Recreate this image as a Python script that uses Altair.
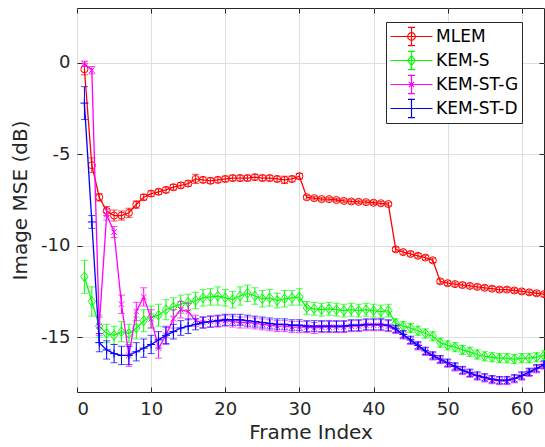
import altair as alt
import pandas as pd

frames = list(range(1, 64))
series_names = ["MLEM", "KEM-S", "KEM-ST-G", "KEM-ST-D"]
colors = ["#ff0000", "#00ff00", "#ff00ff", "#0000ff"]

mlem = [-0.35, -5.6, -7.35, -8.1, -8.35, -8.35, -8.2, -7.75, -7.35, -7.15,
        -7.05, -6.95, -6.8, -6.7, -6.6, -6.35, -6.4, -6.45, -6.4, -6.35,
        -6.3, -6.3, -6.3, -6.25, -6.3, -6.3, -6.35, -6.4, -6.35, -6.2,
        -7.35, -7.4, -7.45, -7.45, -7.5, -7.55, -7.58, -7.6, -7.62, -7.65,
        -7.68, -7.72, -10.2, -10.35, -10.45, -10.55, -10.65, -10.8, -11.95, -12.05,
        -12.1, -12.15, -12.2, -12.25, -12.3, -12.35, -12.4, -12.4, -12.45, -12.5,
        -12.55, -12.6, -12.65]
mlem_err = [0.30, 0.40, 0.20, 0.25, 0.30, 0.25, 0.25, 0.20, 0.15, 0.15,
            0.15, 0.15, 0.15, 0.15, 0.15, 0.25, 0.15, 0.15, 0.15, 0.15,
            0.15, 0.15, 0.15, 0.15, 0.15, 0.15, 0.15, 0.20, 0.15, 0.15,
            0.10, 0.10, 0.10, 0.10, 0.10, 0.10, 0.10, 0.10, 0.10, 0.10,
            0.10, 0.10, 0.12, 0.12, 0.12, 0.12, 0.12, 0.12, 0.12, 0.12,
            0.12, 0.12, 0.12, 0.12, 0.12, 0.12, 0.12, 0.12, 0.12, 0.12,
            0.12, 0.12, 0.12]

kem_s = [-11.7, -13.05, -14.4, -14.8, -14.9, -14.7, -14.8, -14.5, -14.1, -13.9,
         -13.8, -13.5, -13.35, -13.2, -13.1, -13.0, -12.85, -12.8, -12.75, -12.85,
         -12.95, -12.75, -12.6, -12.75, -12.9, -12.85, -13.0, -12.9, -12.85, -12.8,
         -13.4, -13.45, -13.5, -13.45, -13.5, -13.55, -13.5, -13.55, -13.5, -13.55,
         -13.6, -13.55, -14.25, -14.4, -14.5, -14.65, -14.8, -14.95, -15.3, -15.45,
         -15.55, -15.7, -15.8, -15.95, -16.05, -16.1, -16.15, -16.15, -16.2, -16.15,
         -16.15, -16.1, -16.0]
kem_s_err = [0.90, 0.80, 0.60, 0.50, 0.50, 0.55, 0.50, 0.60, 0.60, 0.60,
             0.60, 0.55, 0.50, 0.50, 0.45, 0.45, 0.45, 0.45, 0.50, 0.45,
             0.45, 0.50, 0.45, 0.45, 0.45, 0.45, 0.40, 0.45, 0.40, 0.45,
             0.35, 0.35, 0.35, 0.35, 0.35, 0.35, 0.35, 0.35, 0.35, 0.35,
             0.35, 0.35, 0.25, 0.25, 0.25, 0.25, 0.25, 0.25, 0.25, 0.25,
             0.25, 0.25, 0.25, 0.25, 0.25, 0.25, 0.25, 0.25, 0.25, 0.25,
             0.25, 0.25, 0.25]

kem_st_g = [-0.05, -0.4, -14.4, -8.3, -9.25, -13.2, -16.0, -13.6, -12.8, -14.0,
            -15.6, -14.9, -14.0, -13.5, -13.6, -14.1, -14.2, -14.15, -14.15, -14.1,
            -14.15, -14.2, -14.2, -14.25, -14.3, -14.35, -14.4, -14.4, -14.45, -14.45,
            -14.45, -14.5, -14.45, -14.45, -14.45, -14.45, -14.4, -14.4, -14.35, -14.35,
            -14.35, -14.4, -14.6, -14.9, -15.2, -15.5, -15.8, -16.05, -16.25, -16.45,
            -16.65, -16.85, -17.0, -17.15, -17.25, -17.35, -17.4, -17.4, -17.3, -17.15,
            -16.95, -16.75, -16.55]
kem_st_g_err = [0.15, 0.20, 0.50, 0.30, 0.30, 0.50, 0.60, 0.50, 0.50, 0.50,
                0.55, 0.50, 0.50, 0.45, 0.45, 0.30, 0.30, 0.30, 0.30, 0.30,
                0.30, 0.30, 0.30, 0.30, 0.30, 0.30, 0.30, 0.30, 0.30, 0.30,
                0.30, 0.30, 0.30, 0.30, 0.30, 0.30, 0.30, 0.30, 0.30, 0.30,
                0.30, 0.30, 0.20, 0.20, 0.20, 0.20, 0.20, 0.20, 0.20, 0.20,
                0.20, 0.20, 0.20, 0.20, 0.20, 0.20, 0.20, 0.20, 0.20, 0.20,
                0.20, 0.20, 0.20]

kem_st_d = [-2.2, -8.7, -15.3, -15.7, -15.9, -16.0, -16.0, -15.8, -15.6, -15.4,
            -15.15, -14.9, -14.7, -14.5, -14.4, -14.3, -14.2, -14.15, -14.1, -14.05,
            -14.05, -14.05, -14.1, -14.15, -14.2, -14.25, -14.3, -14.3, -14.35, -14.35,
            -14.4, -14.4, -14.4, -14.4, -14.4, -14.4, -14.35, -14.35, -14.3, -14.3,
            -14.3, -14.35, -14.55, -14.85, -15.15, -15.45, -15.75, -16.0, -16.2, -16.4,
            -16.6, -16.8, -16.95, -17.1, -17.2, -17.3, -17.35, -17.35, -17.25, -17.1,
            -16.9, -16.7, -16.5]
kem_st_d_err = [0.90, 0.35, 0.50, 0.50, 0.50, 0.50, 0.50, 0.50, 0.50, 0.50,
                0.45, 0.45, 0.40, 0.40, 0.40, 0.30, 0.30, 0.30, 0.30, 0.30,
                0.30, 0.30, 0.30, 0.30, 0.30, 0.30, 0.30, 0.30, 0.30, 0.30,
                0.30, 0.30, 0.30, 0.30, 0.30, 0.30, 0.30, 0.30, 0.30, 0.30,
                0.30, 0.30, 0.20, 0.20, 0.20, 0.20, 0.20, 0.20, 0.20, 0.20,
                0.20, 0.20, 0.20, 0.20, 0.20, 0.20, 0.20, 0.20, 0.20, 0.20,
                0.20, 0.20, 0.20]

x_ticks = [0, 10, 20, 30, 40, 50, 60]
y_ticks = [-15, -10, -5, 0]

# marker shapes (SVG paths in symbol units)
marker_paths = [
    "circle",
    "M0,-1.25L0.95,0L0,1.25L-0.95,0Z",
    "M-1,-1L1,1M-1,1L1,-1",
    "M-1,0H1M0,-1V1",
]
marker_sizes = [50, 60, 30, 64]

legend_paths = [
    "M-2,0H2M0,-0.86V0.86M-0.33,-0.86H0.33M-0.33,0.86H0.33"
    "M0.36,0A0.36,0.36 0 1,1 -0.36,0A0.36,0.36 0 1,1 0.36,0",
    "M-2,0H2M0,-0.86V0.86M-0.33,-0.86H0.33M-0.33,0.86H0.33"
    "M0,-0.48L0.36,0L0,0.48L-0.36,0Z",
    "M-2,0H2M0,-0.86V0.86M-0.33,-0.86H0.33M-0.33,0.86H0.33"
    "M-0.25,-0.25L0.25,0.25M-0.25,0.25L0.25,-0.25",
    "M-2,0H2M0,-0.86V0.86M-0.33,-0.86H0.33M-0.33,0.86H0.33",
]

rows = []
for name, vals, errs in zip(series_names,
                            [mlem, kem_s, kem_st_g, kem_st_d],
                            [mlem_err, kem_s_err, kem_st_g_err, kem_st_d_err]):
    for f, v, e in zip(frames, vals, errs):
        rows.append({"frame": f, "series": name, "v": v,
                     "lo": round(v - e, 3), "hi": round(v + e, 3)})
df = pd.DataFrame(rows)

FONT = "DejaVu Sans"
TXT = "#262626"
xs = alt.Scale(domain=[0, 63], nice=False, zero=False)
ys = alt.Scale(domain=[-18, 3], nice=False, zero=False)


def X(field="frame", axis=None):
    return alt.X(f"{field}:Q", scale=xs, axis=axis)


def Y(field="v", axis=None):
    return alt.Y(f"{field}:Q", scale=ys, axis=axis)


layers = []

# main axes with labels, titles and grid
main_x_axis = alt.Axis(values=x_ticks, grid=True, gridColor="#dfdfdf", gridWidth=1,
                       ticks=False, tickSize=0, domain=False, labelFont=FONT,
                       labelFontSize=18, labelColor=TXT, labelPadding=8,
                       labelExpr="'' + datum.value",
                       title="Frame Index", titleFont=FONT, titleFontSize=20,
                       titleFontWeight="normal", titleColor=TXT, titlePadding=4)
main_y_axis = alt.Axis(values=y_ticks, grid=True, gridColor="#dfdfdf", gridWidth=1,
                       ticks=False, tickSize=0, domain=False, labelFont=FONT,
                       labelFontSize=18, labelColor=TXT, labelPadding=7,
                       labelExpr="'' + datum.value",
                       title="Image MSE (dB)", titleFont=FONT, titleFontSize=20,
                       titleFontWeight="normal", titleColor=TXT, titlePadding=10)
layers.append(
    alt.Chart(df).transform_filter("false").mark_point()
    .encode(x=X(axis=main_x_axis), y=Y(axis=main_y_axis))
)


def tick_axis(orient, values):
    return alt.Axis(orient=orient, values=values, grid=False, labels=False,
                    domain=False, ticks=True, tickSize=5, tickColor=TXT,
                    tickWidth=1, offset=-5, title=None)


layers.append(
    alt.Chart(df).transform_filter("false").mark_point()
    .encode(x=X(axis=tick_axis("bottom", x_ticks)), y=Y(axis=tick_axis("left", y_ticks)))
)
layers.append(
    alt.Chart(df).transform_filter("false").mark_point()
    .encode(x=X(axis=tick_axis("top", x_ticks)), y=Y(axis=tick_axis("right", y_ticks)))
)

for name, col, mp, msz in zip(series_names, colors, marker_paths, marker_sizes):
    base = alt.Chart(df).transform_filter(alt.datum.series == name)
    layers.append(base.mark_rule(color=col, strokeWidth=1)
                  .encode(x=X(), y=Y("lo"), y2="hi"))
    layers.append(base.transform_fold(["lo", "hi"], as_=["k", "cap"])
                  .mark_tick(color=col, orient="horizontal", size=7, thickness=1)
                  .encode(x=X(), y=Y("cap")))
    layers.append(base.mark_line(color=col, strokeWidth=1.3)
                  .encode(x=X(), y=Y()))
    layers.append(base.mark_point(shape=mp, size=msz, color=col, filled=False,
                                  strokeWidth=1, opacity=1)
                  .encode(x=X(), y=Y()))

legend = alt.Legend(orient="none", legendX=309, legendY=14, title=None,
                    labelFont=FONT, labelFontSize=17, labelColor="black",
                    strokeColor=TXT, fillColor="white", padding=3,
                    symbolSize=441, symbolStrokeWidth=1.2, symbolOffset=11,
                    labelOffset=13, rowPadding=1, cornerRadius=0)
layers.append(
    alt.Chart(df).transform_filter("false")
    .mark_point(filled=False, strokeWidth=1.2, opacity=1)
    .encode(x=X(), y=Y(),
            color=alt.Color("series:N", scale=alt.Scale(domain=series_names, range=colors),
                            legend=legend),
            shape=alt.Shape("series:N", scale=alt.Scale(domain=series_names, range=legend_paths),
                            legend=legend))
)

chart = (
    alt.layer(*layers)
    .resolve_axis(x="independent", y="independent")
    .properties(width=467, height=384,
                autosize=alt.AutoSizeParams(type="none"),
                padding={"left": 77, "top": 8, "right": 1, "bottom": 55},
                background="white")
    .configure_view(stroke=TXT, strokeWidth=1)
)

chart.save("out.html", embed_options={"renderer": "svg", "actions": False})
